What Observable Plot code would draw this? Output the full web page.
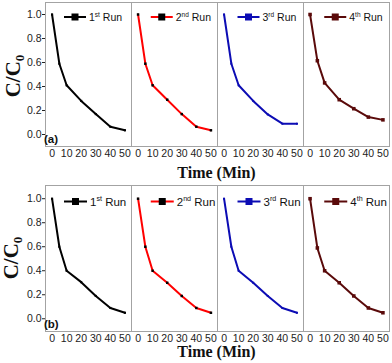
<!DOCTYPE html>
<html><head><meta charset="utf-8">
<script src="https://cdn.jsdelivr.net/npm/d3@7"></script>
<script src="https://cdn.jsdelivr.net/npm/@observablehq/plot@0.6"></script>
<style>body{margin:0;background:#fff} #chart svg{display:block}</style>
</head><body><div id="chart"></div>
<script>
const time = [0, 5, 10, 20, 30, 40, 50];
const runs = ["1st Run", "2nd Run", "3rd Run", "4th Run"];
const runNum = ["1", "2", "3", "4"];
const runSup = ["st", "nd", "rd", "th"];
const colors = ["#000000", "#ff0000", "#0c0cb4", "#5a0a0a"];
const markerColors = ["#000000", "#000000", "#0c0cb4", "#5a0a0a"];
const markerR = [1.2, 1.4, 1.1, 2.0];
const xTicks = [0, 10, 20, 30, 40, 50];
const yTicks = [0, 0.2, 0.4, 0.6, 0.8, 1.0];

// panel (a)
const a1 = [1.0, 0.59, 0.41, 0.28, 0.17, 0.065, 0.035];
const a2 = [1.0, 0.59, 0.41, 0.29, 0.17, 0.065, 0.035];
const a3 = [1.0, 0.59, 0.41, 0.28, 0.167, 0.09, 0.09];
const a4 = [1.0, 0.615, 0.43, 0.29, 0.215, 0.145, 0.122];
// panel (b)
const b1 = [1.0, 0.60, 0.40, 0.305, 0.19, 0.09, 0.05];
const b2 = [1.0, 0.60, 0.40, 0.30, 0.19, 0.09, 0.05];
const b3 = [1.0, 0.60, 0.40, 0.30, 0.19, 0.09, 0.05];
const b4 = [1.0, 0.59, 0.40, 0.30, 0.19, 0.09, 0.05];

function makeRow(series, tag, opt) {
  const data = [];
  series.forEach((vals, i) => vals.forEach((v, j) => data.push({run: runs[i], t: time[j], c: v})));
  const marks = [
    Plot.frame({stroke: "#a3a3a3"}),
    Plot.line(data, {fx: "run", x: "t", y: "c", stroke: "run", strokeWidth: 2})
  ];
  runs.forEach((r, i) => {
    marks.push(Plot.dot(data.filter(d => d.run === r), {fx: "run", x: "t", y: "c", symbol: "square", fill: markerColors[i], r: markerR[i]}));
  });
  const plot = Plot.plot({
    width: 392, height: opt.height,
    marginTop: 2, marginBottom: opt.marginBottom, marginLeft: 43, marginRight: 2,
    fx: {domain: runs, axis: null, padding: 0},
    x: {domain: [-4.5, 54.5], ticks: xTicks, tickSize: 0, tickPadding: 3, label: null},
    y: {domain: opt.yDomain, ticks: yTicks, tickFormat: d3.format(".1f"), tickSize: 3, tickPadding: 1, label: null},
    color: {domain: runs, range: colors},
    style: {fontFamily: "Arial, 'Liberation Sans', sans-serif", fontSize: "10.5px", color: "#222", background: "#fff"},
    marks
  });
  const svg = d3.select(plot);
  const left = 43, right = 390;
  const pw = (right - left) / runs.length;
  // legends
  runs.forEach((r, i) => {
    const x0 = left + i * pw;
    const g = svg.append("g").attr("text-anchor", "start");
    g.append("line").attr("x1", x0 + opt.lx1).attr("x2", x0 + opt.lx2)
      .attr("y1", opt.ly).attr("y2", opt.ly).attr("stroke", colors[i]).attr("stroke-width", 2);
    const sq = 7;
    const cx = x0 + (opt.lx1 + opt.lx2) / 2;
    g.append("rect").attr("x", cx - sq / 2).attr("y", opt.ly - sq / 2).attr("width", sq).attr("height", sq)
      .attr("fill", markerColors[i]);
    const t = g.append("text").attr("x", x0 + opt.tx).attr("y", opt.ly + opt.fs * 0.36)
      .attr("text-anchor", "start")
      .attr("font-family", "Arial, 'Liberation Sans', sans-serif").attr("font-size", opt.fs).attr("fill", "#111");
    t.append("tspan").text(runNum[i]);
    t.append("tspan").attr("dy", -opt.fs * 0.4).attr("font-size", opt.fs * 0.62).text(runSup[i]);
    t.append("tspan").attr("dy", opt.fs * 0.4).text(" Run");
  });
  // panel tag
  svg.append("text").attr("x", left + 1).attr("y", opt.tagY).attr("text-anchor", "start")
    .attr("font-family", "Arial, 'Liberation Sans', sans-serif").attr("font-weight", "bold")
    .attr("font-size", 11.5).attr("fill", "#111").text(tag);
  // x title
  svg.append("text").attr("x", (left + right) / 2).attr("y", opt.titleY).attr("text-anchor", "middle")
    .attr("font-family", "'Liberation Serif', 'Times New Roman', serif").attr("font-weight", "bold")
    .attr("font-size", 16).attr("fill", "#111").text("Time (Min)");
  // y title
  const yt = svg.append("text").attr("transform", `translate(${opt.yLabX},${opt.yLabY}) rotate(-90)`)
    .attr("text-anchor", "middle")
    .attr("font-family", "'Liberation Serif', 'Times New Roman', serif").attr("font-weight", "bold")
    .attr("font-size", 21).attr("fill", "#111");
  yt.append("tspan").text("C/C");
  yt.append("tspan").attr("font-size", 13).attr("dy", 4).text("0");
  return plot;
}

const chart = document.getElementById("chart");
chart.appendChild(makeRow([a1, a2, a3, a4], "(a)", {
  height: 183, marginBottom: 37, yDomain: [-0.1, 1.1],
  lx1: 21, lx2: 43, ly: 17, tx: 46, fs: 10.5, tagY: 143, titleY: 178, yLabX: 20, yLabY: 76
}));
chart.appendChild(makeRow([b1, b2, b3, b4], "(b)", {
  height: 180, marginBottom: 32, yDomain: [-0.106, 1.11],
  lx1: 21, lx2: 44, ly: 18.5, tx: 47, fs: 11.5, tagY: 145, titleY: 174, yLabX: 18, yLabY: 75
}));
</script>
</body></html>
